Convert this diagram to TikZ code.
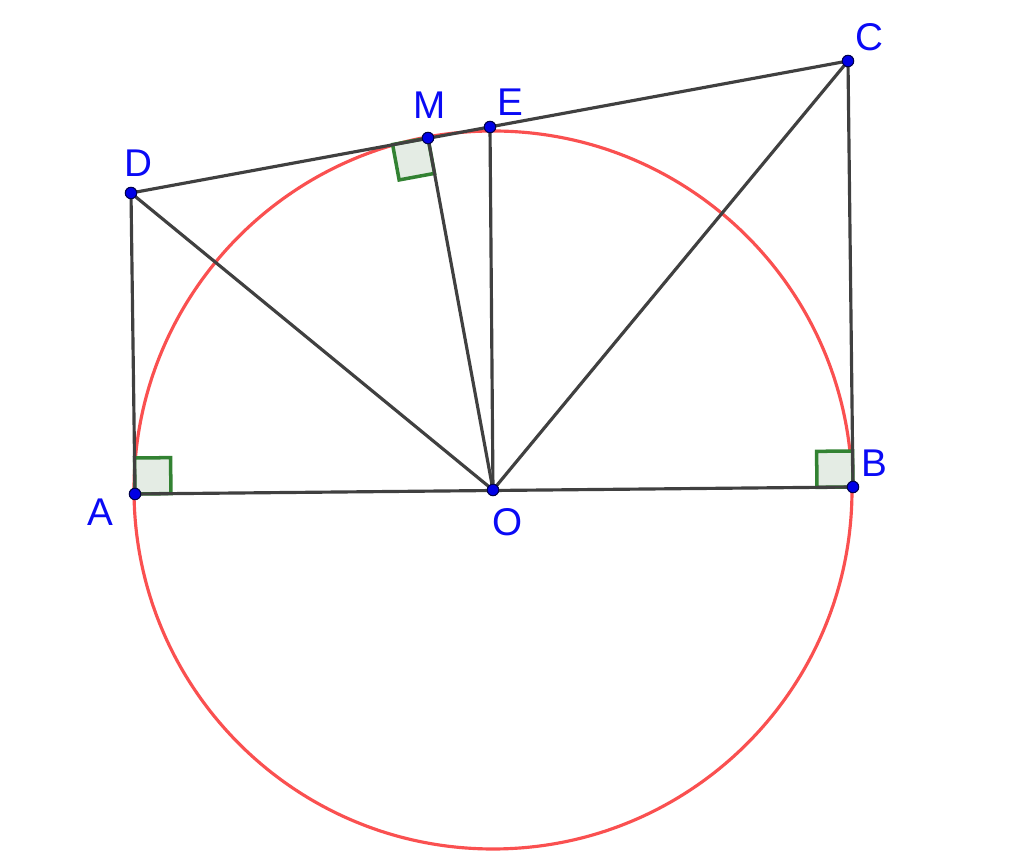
\documentclass[tikz,border=0pt]{standalone}
\usepackage{fontspec}
\setmainfont{Liberation Sans}
\usetikzlibrary{calc}
\definecolor{ptblue}{RGB}{0,0,230}
\definecolor{lblblue}{RGB}{10,10,245}
\definecolor{circred}{RGB}{250,80,80}
\definecolor{segray}{RGB}{64,64,64}
\definecolor{angfill}{RGB}{228,236,228}
\definecolor{angdraw}{RGB}{50,130,50}
\tikzset{
  seg/.style={draw=segray,line width=0.9pt},
  circ/.style={draw=circred,line width=0.9pt},
  rangle/.style={draw=angdraw,fill=angfill,line width=1pt},
  dot/.style={circle,fill=ptblue,draw=black!70!blue,line width=0.3pt,inner sep=0pt,minimum size=1.15mm},
  lbl/.style={text=lblblue,font=\fontsize{11}{13}\selectfont,inner sep=0pt}
}
\begin{document}
\begin{tikzpicture}
\useasboundingbox (0,0) rectangle (10.24,8.63);
% points
\coordinate (O) at (4.93,3.73);
\coordinate (A) at (1.35,3.69);
\coordinate (B) at (8.53,3.76);
\coordinate (C) at (8.48,8.02);
\coordinate (D) at (1.31,6.70);
\coordinate (M) at (4.28,7.25);
\coordinate (E) at (4.90,7.36);
% circle
\draw[circ] (O) circle (3.59);
% right angles
\def\s{0.36cm}
\coordinate (a1) at ($(A)!\s!(B)$);
\coordinate (a2) at ($(A)!\s!(D)$);
\draw[rangle] (A) -- (a1) -- ($(a1)+(a2)-(A)$) -- (a2) -- cycle;
\coordinate (b1) at ($(B)!\s!(A)$);
\coordinate (b2) at ($(B)!\s!(C)$);
\draw[rangle] (B) -- (b1) -- ($(b1)+(b2)-(B)$) -- (b2) -- cycle;
\coordinate (m1) at ($(M)!\s!(D)$);
\coordinate (m2) at ($(M)!\s!(O)$);
\draw[rangle] (M) -- (m1) -- ($(m1)+(m2)-(M)$) -- (m2) -- cycle;
% segments
\draw[seg] (D) -- (C);
\draw[seg] (D) -- (A) -- (B) -- (C);
\draw[seg] (D) -- (O);
\draw[seg] (M) -- (O);
\draw[seg] (E) -- (O);
\draw[seg] (C) -- (O);
% dots
\foreach \p in {A,B,C,D,M,E,O}
  \node[dot] (d\p) at (\p) {};
% labels
\node[lbl] (lA) at (1.00,3.51) {A};
\node[lbl] (lB) at (8.74,4.00) {B};
\node[lbl] (lO) at (5.08,3.41) {O};
\node[lbl] (lC) at (8.69,8.26) {C};
\node[lbl] (lD) at (1.38,7.00) {D};
\node[lbl] (lM) at (4.30,7.58) {M};
\node[lbl] (lE) at (5.10,7.61) {E};
\end{tikzpicture}
\end{document}
